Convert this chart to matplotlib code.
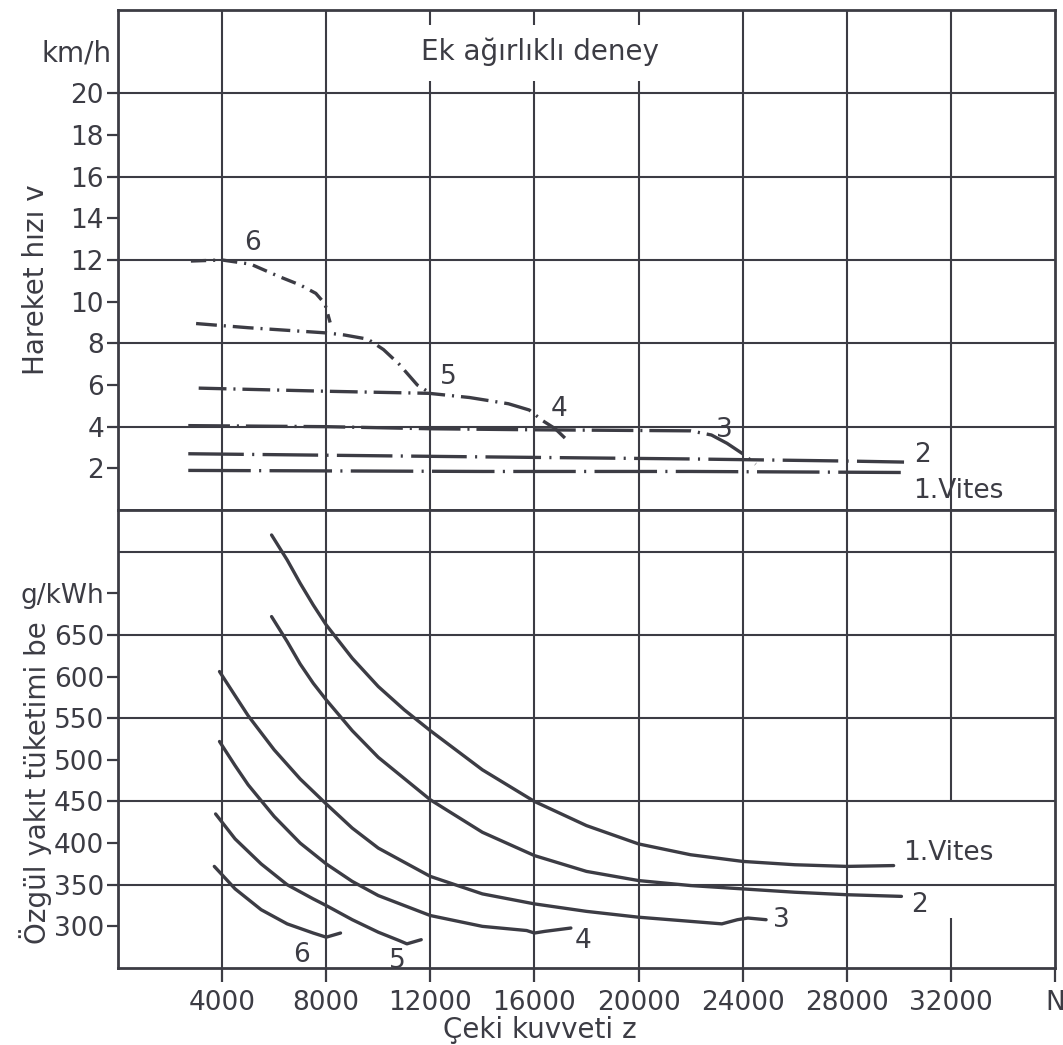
import matplotlib.pyplot as plt

plt.rcParams['font.family'] = ['DejaVu Sans']
plt.rcParams['lines.scale_dashes'] = False

INK = '#3c3c44'

# Hareket hızı (km/h) eğrileri - vites başına çekme kuvveti z (N)
v6_z = [2800, 4000, 5100, 6200, 7000, 7600, 7950, 8150]
v6_v = [11.95, 12.0, 11.8, 11.2, 10.8, 10.4, 9.9, 9.0]
v5_z = [3000, 5000, 8000, 8700, 9600, 10200, 10800, 11500, 11950]
v5_v = [8.95, 8.75, 8.5, 8.4, 8.2, 7.7, 7.0, 6.0, 5.65]
v4_z = [3100, 8000, 11950, 13500, 15000, 15800, 16300, 16800, 17300]
v4_v = [5.85, 5.7, 5.6, 5.4, 5.1, 4.8, 4.3, 3.9, 3.3]
v3_z = [2700, 8000, 12000, 16000, 22000, 22800, 23400, 24000, 24500]
v3_v = [4.05, 4.0, 3.9, 3.85, 3.8, 3.6, 3.2, 2.7, 2.2]
v2_z = [2700, 14000, 22000, 28000, 30200]
v2_v = [2.7, 2.55, 2.45, 2.35, 2.3]
v1_z = [2700, 14000, 22000, 30200]
v1_v = [1.9, 1.85, 1.85, 1.8]

# Özgül yakıt tüketimi (g/kWh)
b1_z = [5900, 6500, 7000, 7500, 8000, 9000, 10000, 11000, 12000, 14000, 16000, 18000, 20000, 22000, 24000, 26000, 28000, 29800]
b1_v = [770, 740, 712, 686, 662, 622, 588, 560, 535, 488, 450, 421, 399, 386, 378, 374, 372, 373]
b2_z = [5900, 6500, 7000, 7500, 8000, 9000, 10000, 12000, 14000, 16000, 18000, 20000, 22000, 24000, 26000, 28000, 30100]
b2_v = [672, 642, 615, 592, 572, 535, 503, 452, 413, 385, 366, 355, 349, 345, 341, 338, 336]
b3_z = [3900, 4500, 5000, 6000, 7000, 8000, 9000, 10000, 12000, 14000, 16000, 18000, 20000, 22000, 23200, 23800, 24200, 24900]
b3_v = [606, 577, 553, 512, 477, 447, 418, 394, 360, 339, 327, 318, 311, 306, 303, 308, 310, 308]
b4_z = [3900, 4500, 5000, 6000, 7000, 8000, 9000, 10000, 12000, 14000, 15700, 16000, 16400, 17400]
b4_v = [522, 493, 470, 432, 400, 375, 354, 337, 313, 300, 295, 292, 294, 298]
b5_z = [3750, 4500, 5500, 6500, 7500, 8000, 9000, 10000, 10800, 11100, 11650]
b5_v = [435, 405, 375, 350, 333, 325, 308, 293, 283, 279, 284]
b6_z = [3700, 4500, 5500, 6500, 7500, 8000, 8550]
b6_v = [372, 345, 320, 303, 292, 287, 292]

x_ticks = [4000, 8000, 12000, 16000, 20000, 24000, 28000, 32000, 36000]
x_labels = ['4000', '8000', '12000', '16000', '20000', '24000', '28000', '32000', 'N']

fig = plt.figure(figsize=(10.63, 10.45), dpi=100)
W, H = 1063, 1045
L, R = 118, 1055
ax1 = fig.add_axes([L / W, 1 - 510 / H, (R - L) / W, 500 / H])
ax2 = fig.add_axes([L / W, 1 - 968 / H, (R - L) / W, 458 / H])

for ax in (ax1, ax2):
    ax.set_xlim(0, 36000)
    for s in ax.spines.values():
        s.set_color(INK)
        s.set_linewidth(2.0)
    ax.tick_params(colors=INK, width=1.6, length=8, labelsize=19, pad=2)

# ---- üst panel ----
ax1.set_ylim(0, 24)
for y in [4, 8, 12, 16, 20]:
    ax1.axhline(y, color=INK, lw=1.5)
for x in [4000, 8000, 24000, 28000, 32000]:
    ax1.axvline(x, color=INK, lw=1.5)
for x in [12000, 16000, 20000]:
    ax1.vlines(x, 0, 20.6, color=INK, lw=1.5)
    ax1.vlines(x, 23.3, 24, color=INK, lw=1.5)

styles = [(0, (45, 6, 1.5, 6)), (0, (40, 6, 1.5, 6)), (0, (30, 5, 1.5, 5)),
          (0, (20, 5, 1.5, 5)), (0, (15, 5, 1.5, 5)), (0, (11, 5, 1.5, 5))]
curves = [(v1_z, v1_v), (v2_z, v2_v), (v3_z, v3_v), (v4_z, v4_v), (v5_z, v5_v), (v6_z, v6_v)]
for (z, v), ls in zip(curves, styles):
    ax1.plot(z, v, color=INK, lw=2.4, linestyle=ls)

ax1.set_yticks(range(2, 21, 2))
ax1.set_xticks([])
ax1.text(-250, 21.9, 'km/h', ha='right', va='center', fontsize=20, color=INK)
ax1.text(16200, 22.0, 'Ek ağırlıklı deney', ha='center', va='center', fontsize=20, color=INK)
ax1.text(-0.088, 0.46, 'Hareket hızı v', transform=ax1.transAxes, rotation=90,
         ha='center', va='center', fontsize=20, color=INK)
for txt, x, y in [('6', 5150, 12.8), ('5', 12700, 6.4), ('4', 16950, 4.85),
                  ('3', 23300, 3.85), ('2', 30900, 2.65)]:
    ax1.text(x, y, txt, ha='center', va='center', fontsize=19, color=INK)
ax1.text(32300, 0.9, '1.Vites', ha='center', va='center', fontsize=19, color=INK)

# ---- alt panel ----
ax2.set_ylim(250, 800)
for y in [350, 450, 550, 650, 750]:
    ax2.axhline(y, color=INK, lw=1.5)
for x in [4000, 8000, 12000, 16000, 20000, 24000, 28000]:
    ax2.axvline(x, color=INK, lw=1.5)
ax2.vlines(32000, 450, 800, color=INK, lw=1.5)
ax2.vlines(32000, 250, 310, color=INK, lw=1.5)

for z, v in [(b1_z, b1_v), (b2_z, b2_v), (b3_z, b3_v), (b4_z, b4_v), (b5_z, b5_v), (b6_z, b6_v)]:
    ax2.plot(z, v, color=INK, lw=2.4, solid_capstyle='round', solid_joinstyle='round')

ax2.set_yticks([300, 350, 400, 450, 500, 550, 600, 650, 700])
ax2.set_yticklabels(['300', '350', '400', '450', '500', '550', '600', '650', 'g/kWh'])
ax2.set_xticks(x_ticks)
ax2.set_xticklabels(x_labels)
ax2.tick_params(axis='x', length=10, pad=6)
ax2.text(-0.088, 0.405, 'Özgül yakıt tüketimi be', transform=ax2.transAxes, rotation=90,
         ha='center', va='center', fontsize=20, color=INK)
for txt, x, y in [('6', 7050, 266), ('5', 10750, 259), ('4', 17850, 283),
                  ('3', 25500, 308), ('2', 30800, 326)]:
    ax2.text(x, y, txt, ha='center', va='center', fontsize=19, color=INK)
ax2.text(31900, 388, '1.Vites', ha='center', va='center', fontsize=19, color=INK)

fig.text(540 / W, 1 - 1030 / H, 'Çeki kuvveti z', ha='center', va='center', fontsize=20, color=INK)

fig.savefig('out.png', dpi=100, facecolor='white')
